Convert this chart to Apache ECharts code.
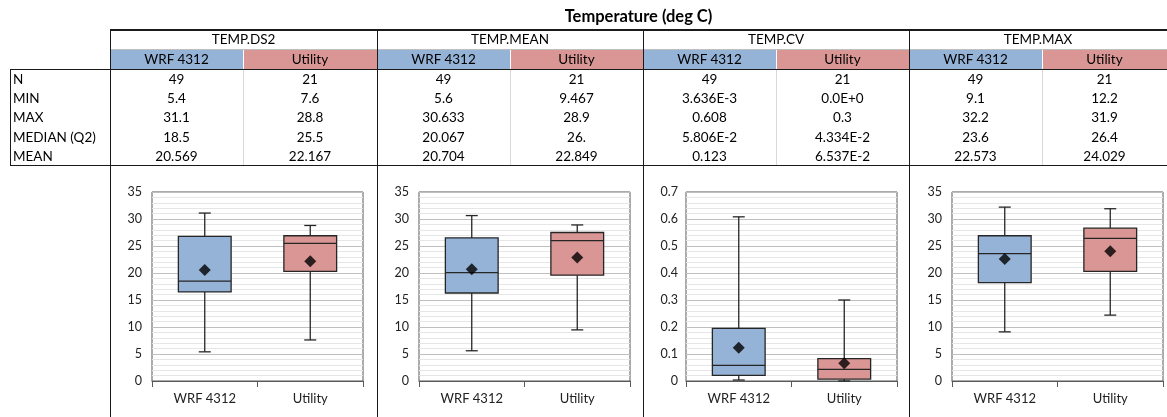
<!DOCTYPE html>
<html>
<head>
<meta charset="utf-8">
<script src="https://cdn.jsdelivr.net/npm/echarts@6/dist/echarts.min.js"></script>
<style>
  html, body { margin: 0; padding: 0; background: #fff; }
  #wrap { position: relative; width: 1167px; height: 417px; overflow: hidden; font-family: Lato, "Open Sans", sans-serif; color: #000; }
  #chart { position: absolute; left: 0; top: 0; width: 1167px; height: 417px; }
  #table { position: absolute; left: 0; top: 0; width: 1167px; height: 417px; pointer-events: none; }
  .t { position: absolute; font-size: 13.5px; line-height: 19px; white-space: nowrap; }
  .c { text-align: center; }
  .ln { position: absolute; }
</style>
</head>
<body>
<div id="wrap">
  <div id="chart"></div>
  <div id="table"></div>
</div>
<script>
// ---- data ----
const title = 'Temperature (deg C)';
const groups = ['TEMP.DS2', 'TEMP.MEAN', 'TEMP.CV', 'TEMP.MAX'];
const seriesNames = ['WRF 4312', 'Utility'];
const rowLabels = ['N', 'MIN', 'MAX', 'MEDIAN (Q2)', 'MEAN'];

// table texts, per group: rows x [WRF, Utility]
const tableDS2  = [['49', '21'], ['5.4', '7.6'], ['31.1', '28.8'], ['18.5', '25.5'], ['20.569', '22.167']];
const tableMEAN = [['49', '21'], ['5.6', '9.467'], ['30.633', '28.9'], ['20.067', '26.'], ['20.704', '22.849']];
const tableCV   = [['49', '21'], ['3.636E-3', '0.0E+0'], ['0.608', '0.3'], ['5.806E-2', '4.334E-2'], ['0.123', '6.537E-2']];
const tableMAX  = [['49', '21'], ['9.1', '12.2'], ['32.2', '31.9'], ['23.6', '26.4'], ['22.573', '24.029']];

// box values: [min, Q1, median, Q3, max] per series
const boxDS2  = [[5.4, 16.5, 18.5, 26.8, 31.1], [7.6, 20.3, 25.5, 26.9, 28.8]];
const boxMEAN = [[5.6, 16.3, 20.067, 26.5, 30.633], [9.467, 19.6, 26.0, 27.5, 28.9]];
const boxCV   = [[0.003636, 0.021, 0.05806, 0.195, 0.608], [0.0, 0.007, 0.04334, 0.083, 0.3]];
const boxMAX  = [[9.1, 18.2, 23.6, 26.9, 32.2], [12.2, 20.3, 26.4, 28.3, 31.9]];

// means per series
const meanDS2  = [20.569, 22.167];
const meanMEAN = [20.704, 22.849];
const meanCV   = [0.123, 0.06537];
const meanMAX  = [22.573, 24.029];

// axis ranges
const yMax = [35, 35, 0.7, 35];
const yInterval = [5, 5, 0.1, 5];

// ---- layout / styles ----
const fillColors = ['#95B3D7', '#DA9694'];
const tables = [tableDS2, tableMEAN, tableCV, tableMAX];
const boxes = [boxDS2, boxMEAN, boxCV, boxMAX];
const means = [meanDS2, meanMEAN, meanCV, meanMAX];
const groupX = [110, 377, 643, 909, 1167];
const gridLeft = [152, 419, 686, 952];

// ---- HTML table ----
const T = document.getElementById('table');
function add(cls, style, text) {
  const d = document.createElement('div');
  d.className = cls;
  Object.assign(d.style, style);
  if (text !== undefined) d.textContent = text;
  T.appendChild(d);
  return d;
}
// title
add('t c', { left: '110px', width: '1057px', top: '7px', fontWeight: 'bold', fontSize: '16.5px' }, title);
// colored sub header cells
for (let g = 0; g < 4; g++) {
  const x0 = groupX[g], x1 = groupX[g + 1], xm = x0 + 133;
  add('ln', { left: x0 + 'px', top: '50px', width: (xm - x0) + 'px', height: '19px', background: fillColors[0] });
  add('ln', { left: (xm + 1) + 'px', top: '50px', width: (x1 - xm - 1) + 'px', height: '19px', background: fillColors[1] });
  add('t c', { left: x0 + 'px', width: (x1 - x0) + 'px', top: '30px' }, groups[g]);
  add('t c', { left: x0 + 'px', width: (xm - x0) + 'px', top: '50px' }, seriesNames[0]);
  add('t c', { left: xm + 'px', width: (x1 - xm) + 'px', top: '50px' }, seriesNames[1]);
  // light sub separator in data rows
  add('ln', { left: xm + 'px', top: '69px', width: '1px', height: '96px', background: '#D9D9D9' });
  for (let r = 0; r < rowLabels.length; r++) {
    const y = 70 + r * 19.2;
    add('t c', { left: x0 + 'px', width: (xm - x0) + 'px', top: y + 'px' }, tables[g][r][0]);
    add('t c', { left: xm + 'px', width: (x1 - xm) + 'px', top: y + 'px' }, tables[g][r][1]);
  }
}
for (let r = 0; r < rowLabels.length; r++) {
  add('t', { left: '13px', top: (70 + r * 19.2) + 'px' }, rowLabels[r]);
}
// borders
const dark = '#1a1a1a';
add('ln', { left: '110px', top: '29px', width: '1057px', height: '1.5px', background: dark });
add('ln', { left: '110px', top: '49px', width: '1057px', height: '1px', background: '#bfbfbf' });
add('ln', { left: '10px', top: '68.5px', width: '1157px', height: '1.5px', background: dark });
add('ln', { left: '10px', top: '164.5px', width: '1157px', height: '1.5px', background: dark });
add('ln', { left: '9.5px', top: '69px', width: '1.5px', height: '96px', background: dark });
for (let g = 0; g < 4; g++) {
  add('ln', { left: (groupX[g] - 0.5) + 'px', top: '29px', width: '1.5px', height: '388px', background: dark });
}

// ---- ECharts box plots ----
const chart = echarts.init(document.getElementById('chart'), null, { renderer: 'canvas' });
const grid = [], xAxis = [], yAxis = [], series = [];
for (let g = 0; g < 4; g++) {
  grid.push({ left: gridLeft[g], top: 192, width: 211, height: 189, show: true, borderColor: '#595959', borderWidth: 1, backgroundColor: 'transparent' });
  xAxis.push({
    type: 'category', gridIndex: g, data: seriesNames, boundaryGap: true,
    axisLine: { show: true, lineStyle: { color: '#595959', width: 1 } },
    axisTick: { show: true, alignWithLabel: false, length: 6, lineStyle: { color: '#595959' } },
    axisLabel: { color: '#222', fontSize: 13, margin: 11, fontFamily: 'Lato' },
    splitLine: { show: false }
  });
  yAxis.push({
    type: 'value', gridIndex: g, min: 0, max: yMax[g], interval: yInterval[g],
    axisLine: { show: false }, axisTick: { show: false },
    axisLabel: { color: '#222', fontSize: 12.5, margin: g === 2 ? 8 : 10, fontFamily: 'Lato' },
    splitLine: { show: true, lineStyle: { color: '#BFBFBF', width: 1 } },
    minorTick: { show: false, splitNumber: 5 },
    minorSplitLine: { show: true, lineStyle: { color: '#E6E6E6', width: 1 } }
  });
  const boxData = boxes[g].map((b, i) => [i].concat(b));
  series.push({
    type: 'custom', xAxisIndex: g, yAxisIndex: g, data: boxData, z: 3,
    renderItem: function (params, api) {
      const c = api.value(0);
      const xc = api.coord([c, 0])[0];
      const bw = api.size([1, 0])[0] * 0.5;
      const cap = 12;
      const yMin = api.coord([c, api.value(1)])[1];
      const yQ1 = api.coord([c, api.value(2)])[1];
      const yMed = api.coord([c, api.value(3)])[1];
      const yQ3 = api.coord([c, api.value(4)])[1];
      const yMx = api.coord([c, api.value(5)])[1];
      const ls = { stroke: '#262626', lineWidth: 1.3 };
      return {
        type: 'group',
        children: [
          { type: 'line', shape: { x1: xc, y1: yMx, x2: xc, y2: yQ3 }, style: ls },
          { type: 'line', shape: { x1: xc, y1: yQ1, x2: xc, y2: yMin }, style: ls },
          { type: 'line', shape: { x1: xc - cap / 2, y1: yMx, x2: xc + cap / 2, y2: yMx }, style: ls },
          { type: 'line', shape: { x1: xc - cap / 2, y1: yMin, x2: xc + cap / 2, y2: yMin }, style: ls },
          { type: 'rect', shape: { x: xc - bw / 2, y: yQ3, width: bw, height: yQ1 - yQ3 },
            style: { fill: fillColors[c], stroke: '#262626', lineWidth: 1.3 } },
          { type: 'line', shape: { x1: xc - bw / 2, y1: yMed, x2: xc + bw / 2, y2: yMed }, style: ls }
        ]
      };
    }
  });
  series.push({
    type: 'scatter', xAxisIndex: g, yAxisIndex: g, z: 5,
    symbol: 'diamond', symbolSize: 12,
    itemStyle: { color: '#000' },
    data: means[g].map((m, i) => [i, m])
  });
}
chart.setOption({
  animation: false,
  backgroundColor: '#fff',
  grid: grid, xAxis: xAxis, yAxis: yAxis, series: series
});
</script>
</body>
</html>
